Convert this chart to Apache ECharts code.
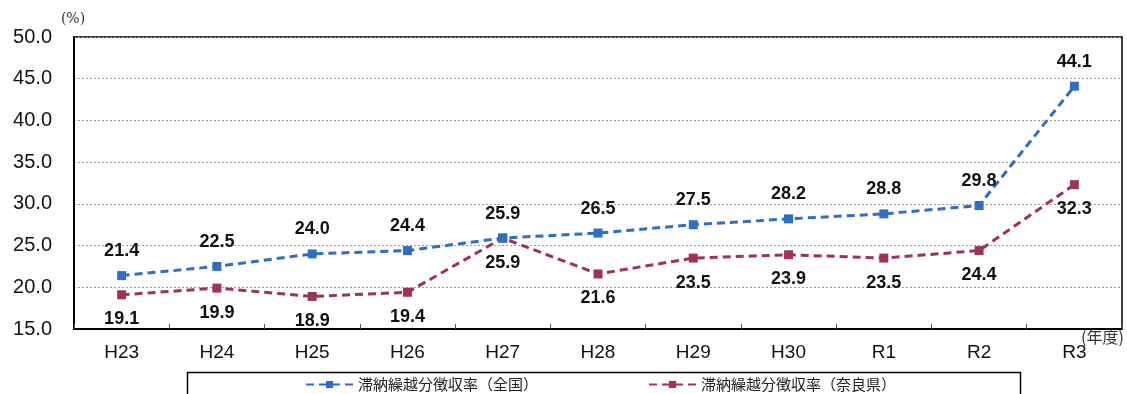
<!DOCTYPE html>
<html>
<head>
<meta charset="utf-8">
<script src="https://cdn.jsdelivr.net/npm/echarts@6/dist/echarts.min.js"></script>
<style>
  html, body { margin: 0; padding: 0; background: #fff; }
  #chart { width: 1127px; height: 394px; }
</style>
</head>
<body>
<div id="chart"></div>
<script>
// 年度
const categories = ['H23', 'H24', 'H25', 'H26', 'H27', 'H28', 'H29', 'H30', 'R1', 'R2', 'R3'];
// 滞納繰越分徴収率（全国）
const nationalRate = [21.4, 22.5, 24.0, 24.4, 25.9, 26.5, 27.5, 28.2, 28.8, 29.8, 44.1];
// 滞納繰越分徴収率（奈良県）
const naraRate = [19.1, 19.9, 18.9, 19.4, 25.9, 21.6, 23.5, 23.9, 23.5, 24.4, 32.3];

const seriesNames = ['滞納繰越分徴収率（全国）', '滞納繰越分徴収率（奈良県）'];

const labelFont = {
  fontSize: 18,
  fontWeight: 'bold',
  color: '#111',
  letterSpacing: 1,
  fontFamily: '"Liberation Sans", Arial, sans-serif'
};

const chart = echarts.init(document.getElementById('chart'));
chart.setOption({
  animation: false,
  backgroundColor: '#fff',
  grid: {
    left: 74, right: 5, top: 37, bottom: 65,
    show: true, borderColor: '#000', borderWidth: 1.5
  },
  legend: {
    data: seriesNames,
    top: 376,
    left: 305,
    itemGap: 110,
    itemWidth: 47,
    itemHeight: 9,
    padding: 0,
    textStyle: { fontSize: 15, lineHeight: 17, color: '#222', fontFamily: '"Noto Sans CJK JP", sans-serif' }
  },
  graphic: [
    {
      type: 'rect',
      shape: { x: 187.5, y: 372.5, width: 833, height: 30 },
      style: { fill: 'none', stroke: '#000', lineWidth: 1.5 },
      z: -1
    },
    {
      type: 'text',
      left: 1081, top: 329,
      style: { text: '(年度)', fontSize: 16, fill: '#333', fontFamily: '"Noto Sans CJK JP", serif' }
    }
  ],
  xAxis: {
    type: 'category',
    data: categories,
    boundaryGap: true,
    axisLine: { lineStyle: { color: '#000', width: 2 } },
    axisTick: { show: true, inside: true, length: 5, lineStyle: { color: '#555' } },
    axisLabel: { fontSize: 19, color: '#111', margin: 14, fontFamily: '"Liberation Sans", Arial, sans-serif' }
  },
  yAxis: {
    type: 'value',
    min: 15, max: 50, interval: 5,
    name: '(%)',
    nameLocation: 'end',
    nameGap: 11,
    nameTextStyle: { fontSize: 14, color: '#333', align: 'center', padding: [0, 0, 0, -2], fontFamily: '"DejaVu Serif", serif' },
    axisLine: { show: true, lineStyle: { color: '#000', width: 2 } },
    axisTick: { show: false },
    axisLabel: {
      fontSize: 20, color: '#111', margin: 22,
      fontFamily: '"Liberation Sans", Arial, sans-serif',
      formatter: v => v.toFixed(1)
    },
    splitLine: { lineStyle: { color: '#a89a8e', type: [2, 2], width: 1 } }
  },
  series: [
    {
      name: seriesNames[0],
      type: 'line',
      data: nationalRate,
      symbol: 'rect',
      symbolSize: 9,
      itemStyle: { color: '#2f6fc2' },
      lineStyle: { color: '#2f6fc2', width: 3, type: [8, 5] },
      label: {
        show: true, position: 'top', distance: 11,
        formatter: p => p.value.toFixed(1), ...labelFont
      },
      z: 3
    },
    {
      name: seriesNames[1],
      type: 'line',
      data: naraRate,
      symbol: 'rect',
      symbolSize: 9,
      itemStyle: { color: '#9b3456' },
      lineStyle: { color: '#9b3456', width: 3, type: [8, 5] },
      label: {
        show: true, position: 'bottom', distance: 11,
        formatter: p => p.value.toFixed(1), ...labelFont
      },
      z: 2
    }
  ]
});
</script>
</body>
</html>
